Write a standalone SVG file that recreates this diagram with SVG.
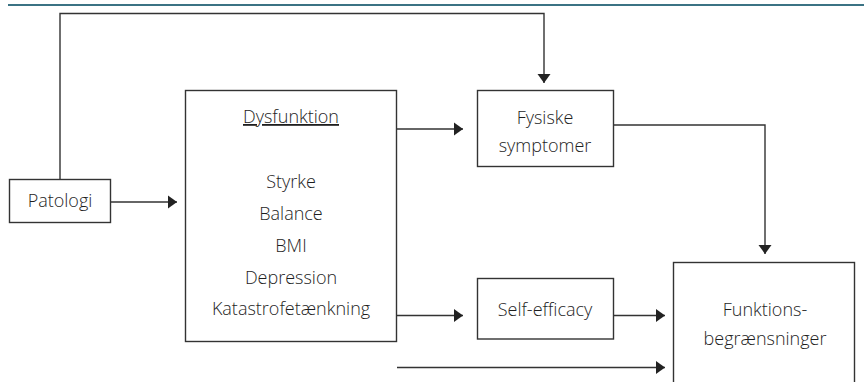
<svg xmlns="http://www.w3.org/2000/svg" width="864" height="382" viewBox="0 0 864 382">
  <style>
    .box { fill: #ffffff; stroke: #333333; stroke-width: 1.4; }
    .conn { fill: none; stroke: #333333; stroke-width: 1.4; }
    .lbl { font-family: "Open Sans", "Liberation Sans", sans-serif; font-size: 18px; font-weight: 300; fill: #1e1e1e; text-anchor: middle; }
  </style>
  <defs>
    <marker id="arrow" markerUnits="userSpaceOnUse" markerWidth="10" markerHeight="14" refX="9" refY="7" orient="auto">
      <path d="M0,0.5 L9,7 L0,13.5 z" fill="#222222"/>
    </marker>
  </defs>
  <rect width="864" height="382" fill="#ffffff"/>
  <line x1="8" y1="5" x2="864" y2="5" stroke="#3b7384" stroke-width="2"/>

  <g id="connectors">
    <path class="conn" d="M60,179.5 V13.5 H544 V83" marker-end="url(#arrow)"/>
    <path class="conn" d="M110.5,202 H177" marker-end="url(#arrow)"/>
    <path class="conn" d="M396.5,129 H463" marker-end="url(#arrow)"/>
    <path class="conn" d="M396.5,315.5 H463" marker-end="url(#arrow)"/>
    <path class="conn" d="M613.5,125 H765 V254" marker-end="url(#arrow)"/>
    <path class="conn" d="M613.5,315.5 H665" marker-end="url(#arrow)"/>
    <path class="conn" d="M397,367.5 H665" marker-end="url(#arrow)"/>
  </g>

  <g id="patologi">
    <rect class="box" x="9.5" y="179.5" width="101" height="43"/>
    <text class="lbl" x="60" y="207">Patologi</text>
  </g>

  <g id="dysfunktion">
    <rect class="box" x="185.5" y="90.5" width="211" height="251"/>
    <text class="lbl" x="291" y="123" text-decoration="underline">Dysfunktion</text>
    <text class="lbl" x="291" y="188">Styrke</text>
    <text class="lbl" x="291" y="219.5">Balance</text>
    <text class="lbl" x="291" y="251.5">BMI</text>
    <text class="lbl" x="291" y="283.5">Depression</text>
    <text class="lbl" x="291" y="315">Katastrofetænkning</text>
  </g>

  <g id="fysiske">
    <rect class="box" x="477.5" y="90.5" width="136" height="76"/>
    <text class="lbl" x="545" y="124">Fysiske</text>
    <text class="lbl" x="545" y="152">symptomer</text>
  </g>

  <g id="selfefficacy">
    <rect class="box" x="477.5" y="278.5" width="136" height="60.5"/>
    <text class="lbl" x="545" y="316">Self-efficacy</text>
  </g>

  <g id="funktion">
    <rect class="box" x="673.5" y="262.5" width="181" height="140"/>
    <text class="lbl" x="765" y="316">Funktions-</text>
    <text class="lbl" x="765" y="345">begrænsninger</text>
  </g>
</svg>
